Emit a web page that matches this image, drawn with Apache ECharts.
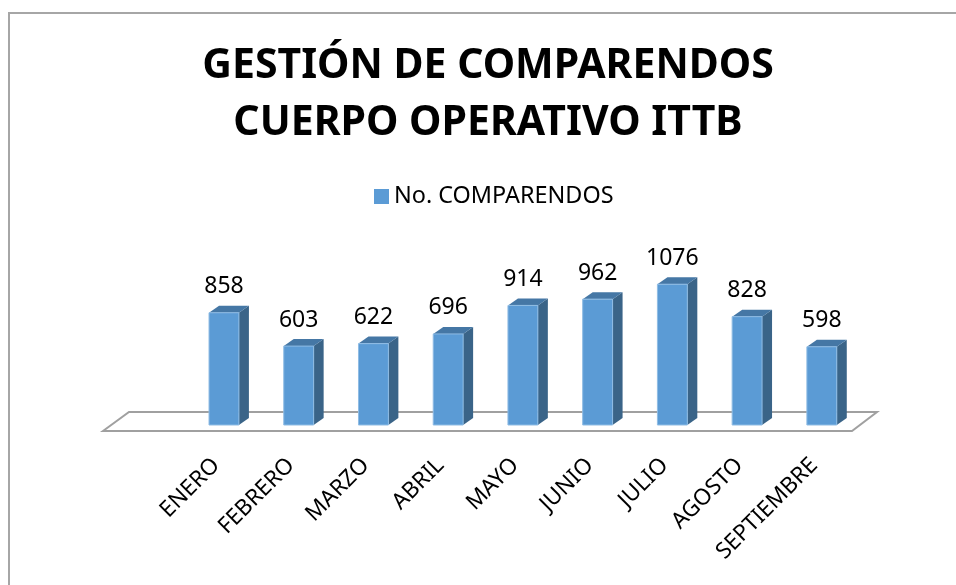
<!DOCTYPE html>
<html>
<head>
<meta charset="utf-8">
<style>
html, body { margin: 0; padding: 0; background: #fff; overflow: hidden; }
#chart { width: 956px; height: 585px; }
</style>
<script src="https://cdn.jsdelivr.net/npm/echarts@6/dist/echarts.min.js"></script>
</head>
<body>
<div id="chart"></div>
<script>
var categories = ['ENERO', 'FEBRERO', 'MARZO', 'ABRIL', 'MAYO', 'JUNIO', 'JULIO', 'AGOSTO', 'SEPTIEMBRE'];
var comparendos = [858, 603, 622, 696, 914, 962, 1076, 828, 598];
var seriesName = 'No. COMPARENDOS';
var titleLines = ['GESTIÓN DE COMPARENDOS', 'CUERPO OPERATIVO ITTB'];

var font = '"Noto Sans", sans-serif';
var depthX = 10, depthY = 7;

function renderBar(params, api) {
    var value = api.value(1);
    var base = api.coord([api.value(0), 0]);
    var top = api.coord([api.value(0), value]);
    var w = api.size([1, 0])[0] * 0.4;
    var x0 = base[0] - w / 2, x1 = base[0] + w / 2;
    return {
        type: 'group',
        children: [
            {
                type: 'polygon',
                shape: { points: [[x1, top[1]], [x1 + depthX, top[1] - depthY], [x1 + depthX, base[1] - depthY], [x1, base[1]]] },
                style: { fill: '#3a6488' }
            },
            {
                type: 'polygon',
                shape: { points: [[x0, top[1]], [x0 + depthX, top[1] - depthY], [x1 + depthX, top[1] - depthY], [x1, top[1]]] },
                style: { fill: '#4577a5' }
            },
            {
                type: 'rect',
                shape: { x: x0, y: top[1], width: w, height: base[1] - top[1] },
                style: { fill: '#5b9bd5', stroke: '#8fbce4', lineWidth: 1 }
            },
            {
                type: 'text',
                style: {
                    x: base[0], y: top[1] - 26,
                    text: String(value),
                    fill: '#000', font: '23px ' + font,
                    align: 'center', verticalAlign: 'middle'
                }
            }
        ]
    };
}

var myChart = echarts.init(document.getElementById('chart'));
myChart.setOption({
    animation: false,
    backgroundColor: '#fff',
    title: {
        text: titleLines.join('\n'),
        left: 483,
        top: 33,
        textAlign: 'center',
        textStyle: { color: '#000', fontFamily: font, fontWeight: 'bold', fontSize: 41, lineHeight: 57 }
    },
    legend: {
        data: [seriesName],
        left: 369,
        top: 180,
        itemWidth: 15,
        itemHeight: 15,
        itemGap: 8,
        icon: 'rect',
        textStyle: { color: '#000', fontFamily: font, fontSize: 23.4 }
    },
    grid: { left: 186.6, width: 672.6, top: 268, height: 157 },
    xAxis: {
        type: 'category',
        data: categories,
        axisLine: { show: false },
        axisTick: { show: false },
        axisLabel: { rotate: 45, margin: 29, padding: [0, 11, 0, 0], color: '#000', fontFamily: font, fontSize: 22.5, interval: 0 }
    },
    yAxis: { type: 'value', min: 0, max: 1200, show: false },
    graphic: [
        {
            type: 'polyline',
            z: 0,
            shape: { points: [[9, 600], [9, 13], [970, 13]] },
            style: { stroke: '#a6a6a6', lineWidth: 2, fill: null }
        },
        {
            type: 'polygon',
            z: 0,
            shape: { points: [[103, 431], [129, 412], [877, 412], [852, 431]] },
            style: { stroke: '#a0a0a0', lineWidth: 2, fill: '#fff' }
        }
    ],
    series: [{
        name: seriesName,
        type: 'custom',
        renderItem: renderBar,
        itemStyle: { color: '#5b9bd5' },
        encode: { x: 0, y: 1 },
        data: comparendos.map(function (v, i) { return [i, v]; })
    }]
});
</script>
</body>
</html>
